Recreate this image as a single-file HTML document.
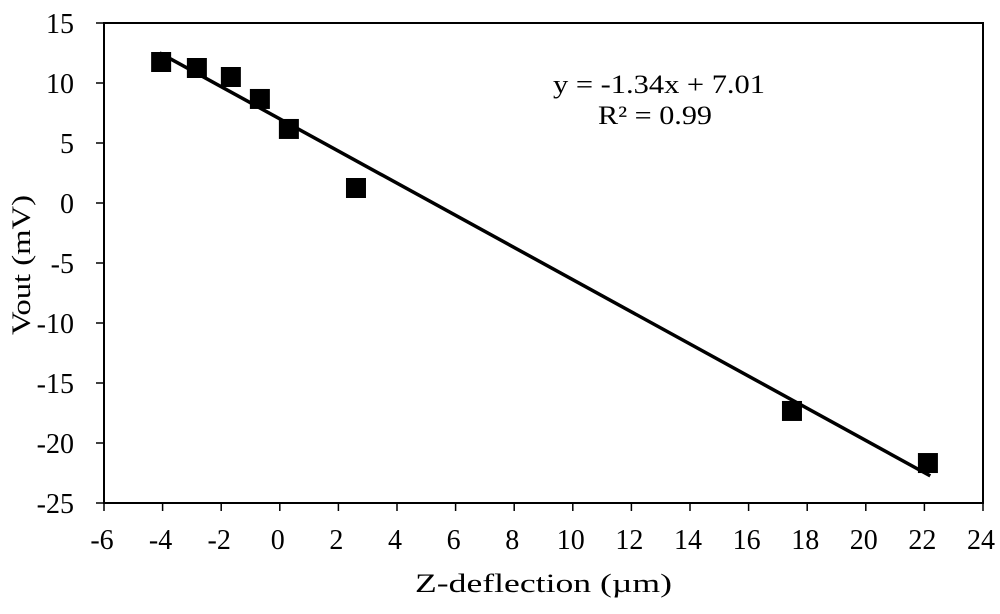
<!DOCTYPE html>
<html><head><meta charset="utf-8"><style>
body{margin:0;background:#fff;}
svg text{font-family:"Liberation Serif",serif;fill:#000;}
</style></head><body>
<svg id="chart" width="1000" height="609">
<g id="axes"></g><g id="marks"></g>
<text x="553" y="93" font-size="26" textLength="212" lengthAdjust="spacingAndGlyphs">y = -1.34x + 7.01</text>
<text x="598" y="124" font-size="26" textLength="114" lengthAdjust="spacingAndGlyphs">R² = 0.99</text>
<text x="415" y="592" font-size="26" textLength="257" lengthAdjust="spacingAndGlyphs">Z-deflection (µm)</text>
<text transform="translate(30,335) rotate(-90)" font-size="26" textLength="140" lengthAdjust="spacingAndGlyphs">Vout (mV)</text>
</svg>
<script>
const xData=[-4.05,-2.83,-1.67,-0.68,0.31,2.6,17.48,22.12];
const yData=[11.75,11.25,10.5,8.67,6.17,1.25,-17.33,-21.67];
const xTicks=[-6,-4,-2,0,2,4,6,8,10,12,14,16,18,20,22,24];
const yTicks=[15,10,5,0,-5,-10,-15,-20,-25];
const slope=-1.34, intercept=7.01, fitRange=[-4.1,22.2];
const L=104,R=983,T=23,B=503;
const sx=v=>L+(v+6)/30*(R-L);
const sy=v=>T+(15-v)/40*(B-T);
const NS="http://www.w3.org/2000/svg";
function mk(tag,attrs,parent){const e=document.createElementNS(NS,tag);for(const k in attrs)e.setAttribute(k,attrs[k]);parent.appendChild(e);return e;}
const ax=document.getElementById('axes'),mg=document.getElementById('marks');
let r=mk('rect',{x:L,y:T,width:R-L,height:B-T,fill:'none',stroke:'#000','stroke-width':2},ax);


xTicks.forEach(t=>{const x=sx(t);
 mk('line',{x1:x,x2:x,y1:B,y2:B+8,stroke:'#000','stroke-width':1.5},ax);
 const tx=mk('text',{x:x-2,y:B+46,'font-size':28,'text-anchor':'middle'},ax);tx.textContent=t;
 
 });
yTicks.forEach(t=>{const y=sy(t);
 mk('line',{x1:L-8,x2:L,y1:y,y2:y,stroke:'#000','stroke-width':1.5},ax);
 const tx=mk('text',{x:L-30,y:y+10,'font-size':28,'text-anchor':'end'},ax);tx.textContent=t;
 
 });
const ln=mk('line',{x1:sx(fitRange[0]),y1:sy(slope*fitRange[0]+intercept),x2:sx(fitRange[1]),y2:sy(slope*fitRange[1]+intercept),stroke:'#000','stroke-width':3.5},mg);


xData.forEach((v,i)=>{const s=20;
 const p=mk('rect',{x:sx(v)-s/2,y:sy(yData[i])-s/2,width:s,height:s,fill:'#000'},mg);
 
 });
</script>
</body></html>
